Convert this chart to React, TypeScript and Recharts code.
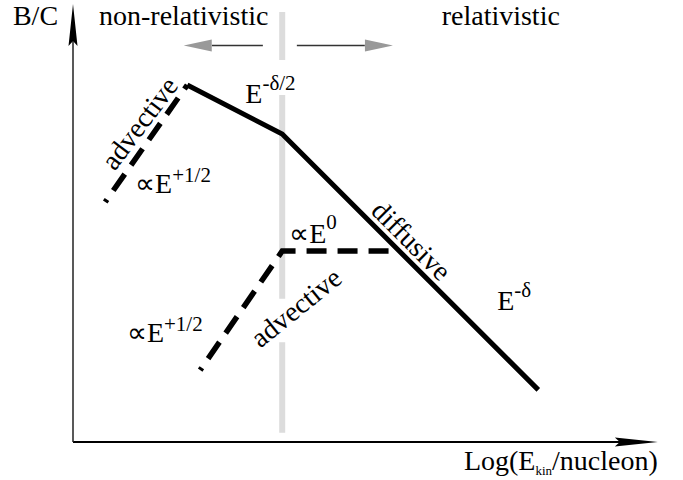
import { ComposedChart, Line, XAxis, YAxis, ReferenceLine, ReferenceDot } from 'recharts';
import type { ReactNode } from 'react';

// schematic B/C vs log kinetic energy per nucleon (arbitrary units 0..10)
const solidX = [1.95, 3.57, 7.94];
const solidY = [8.15, 7.03, 1.19];

// high-energy advective branch, drawn from its low end up to the peak
const upperDashX = [0.55, 1.95];
const upperDashY = [5.48, 8.15];

// low branch: E^+1/2 then flat E^0 until it meets the diffusive slope
const lowerDashX = [2.17, 3.57, 5.56];
const lowerDashY = [1.64, 4.36, 4.36];

// relativistic boundary, broken where the labels sit
const boundaryX = 3.57;
const boundaryY = [9.82, 8.72, null, 7.92, 3.27, null, 2.28, 0.21];

// arrows under the regime labels
const arrowY = 9.05;
const leftArrowX = [1.89, 2.37, 3.24];
const rightArrowX = [3.82, 4.98, 5.46];

const zip = (xs: number[], ys: (number | null)[]) => xs.map((x, i) => ({ x, y: ys[i] }));

const solid = zip(solidX, solidY);
const upperDash = zip(upperDashX, upperDashY);
const lowerDash = zip(lowerDashX, lowerDashY);
const boundary = boundaryY.map((y) => ({ x: boundaryX, y }));

const FONT = 'Liberation Serif';

function label(
  key: string,
  x: number,
  y: number,
  content: ReactNode,
  anchor: 'start' | 'middle' | 'end' = 'start',
  angle = 0,
  dy = 0,
) {
  return (
    <ReferenceDot
      key={key}
      x={x}
      y={y}
      r={1}
      ifOverflow="visible"
      shape={(p: any) => (
        <g transform={angle ? `rotate(${angle} ${p.cx} ${p.cy})` : undefined}>
          <text
            x={p.cx}
            y={p.cy + dy}
            textAnchor={anchor}
            fontFamily={FONT}
            fontSize={28}
            style={{ fontFamily: FONT, fontSize: 28 }}
          >
            {content}
          </text>
        </g>
      )}
    />
  );
}

function head(key: string, x: number, y: number, dir: 'up' | 'right' | 'gl' | 'gr') {
  return (
    <ReferenceDot
      key={key}
      x={x}
      y={y}
      r={1}
      ifOverflow="visible"
      shape={(p: any) => {
        const { cx, cy } = p;
        let d = '';
        let fill = '#000';
        if (dir === 'up') d = `M${cx},${cy} L${cx - 4.5},${cy + 42} L${cx},${cy + 37} L${cx + 4.5},${cy + 42} Z`;
        if (dir === 'right') d = `M${cx},${cy} L${cx - 43},${cy - 4.5} L${cx - 38},${cy} L${cx - 43},${cy + 4.5} Z`;
        if (dir === 'gl') {
          d = `M${cx},${cy} L${cx + 28},${cy - 6} L${cx + 28},${cy + 6} Z`;
          fill = '#999';
        }
        if (dir === 'gr') {
          d = `M${cx},${cy} L${cx - 28},${cy - 6} L${cx - 28},${cy + 6} Z`;
          fill = '#999';
        }
        return <path d={d} fill={fill} stroke="none" />;
      }}
    />
  );
}

const sup = (t: string, dy = -12) => (
  <tspan dy={dy} fontSize={21} style={{ fontFamily: FONT, fontSize: 21 }}>
    {t}
  </tspan>
);

export default function App() {
  return (
    <div
      style={{
        position: 'absolute',
        left: 0,
        top: 0,
        width: 683,
        height: 480,
        background: '#fff',
        fontFamily: FONT,
      }}
    >
      <ComposedChart
        width={683}
        height={480}
        margin={{ top: 4, right: 24, bottom: 38, left: 73 }}
        style={{ fontFamily: FONT }}
      >
        <XAxis type="number" dataKey="x" domain={[0, 10]} hide />
        <YAxis type="number" dataKey="y" domain={[0, 10]} hide />

        <Line
          data={boundary}
          dataKey="y"
          stroke="#dcdcdc"
          strokeWidth={6}
          dot={false}
          activeDot={false}
          connectNulls={false}
          isAnimationActive={false}
        />
        <Line
          data={upperDash}
          dataKey="y"
          stroke="#000"
          strokeWidth={5.5}
          strokeDasharray="20 11"
          strokeDashoffset={17}
          dot={false}
          activeDot={false}
          isAnimationActive={false}
        />
        <Line
          data={lowerDash}
          dataKey="y"
          stroke="#000"
          strokeWidth={5.5}
          strokeDasharray="20 11"
          strokeDashoffset={17}
          strokeLinejoin="miter"
          dot={false}
          activeDot={false}
          isAnimationActive={false}
        />
        <Line
          data={solid}
          dataKey="y"
          stroke="#000"
          strokeWidth={5}
          strokeLinejoin="miter"
          dot={false}
          activeDot={false}
          isAnimationActive={false}
        />

        {/* axes */}
        <ReferenceLine segment={[{ x: 0, y: 0 }, { x: 9.4, y: 0 }]} stroke="#000" strokeWidth={2} ifOverflow="visible" />
        <ReferenceLine segment={[{ x: 0, y: 0 }, { x: 0, y: 9.3 }]} stroke="#222" strokeWidth={1.5} ifOverflow="visible" />
        {head('ha-x', 9.98, 0, 'right')}
        {head('ha-y', 0, 10, 'up')}

        {/* regime arrows */}
        <ReferenceLine
          segment={[{ x: leftArrowX[1], y: arrowY }, { x: leftArrowX[2], y: arrowY }]}
          stroke="#333"
          strokeWidth={1.5}
          ifOverflow="visible"
        />
        <ReferenceLine
          segment={[{ x: rightArrowX[0], y: arrowY }, { x: rightArrowX[1], y: arrowY }]}
          stroke="#333"
          strokeWidth={1.5}
          ifOverflow="visible"
        />
        {head('ga-l', leftArrowX[0], arrowY, 'gl')}
        {head('ga-r', rightArrowX[2], arrowY, 'gr')}

        {label('bc', -0.64, 9.52, 'B/C', 'middle')}
        {label('nonrel', 1.89, 9.52, 'non-relativistic', 'middle')}
        {label('rel', 7.3, 9.52, 'relativistic', 'middle')}
        {label('ed2', 2.94, 7.74, <>E{sup('-δ/2', -13)}</>)}
        {label('adv1', 1.14, 7.27, 'advective', 'middle', -53, 9)}
        {label('p1', 1.06, 5.69, <>∝E{sup('+1/2', -11)}</>)}
        {label('e0', 3.69, 4.54, <>∝E{sup('0', -14)}</>)}
        {label('adv2', 3.81, 3.06, 'advective', 'middle', -39, 9)}
        {label('p2', 0.92, 2.28, <>∝E{sup('+1/2', -11)}</>)}
        {label('diff', 5.77, 4.59, 'diffusive', 'middle', 45, 9)}
        {label('ed', 7.24, 3.01, <>E{sup('-δ', -13)}</>)}
        {label(
          'xlab',
          9.98,
          -0.64,
          <>
            Log(E
            <tspan dy={5} fontSize={13} style={{ fontSize: 13 }}>
              kin
            </tspan>
            <tspan dy={-5}>/nucleon)</tspan>
          </>,
          'end',
        )}
      </ComposedChart>
    </div>
  );
}
